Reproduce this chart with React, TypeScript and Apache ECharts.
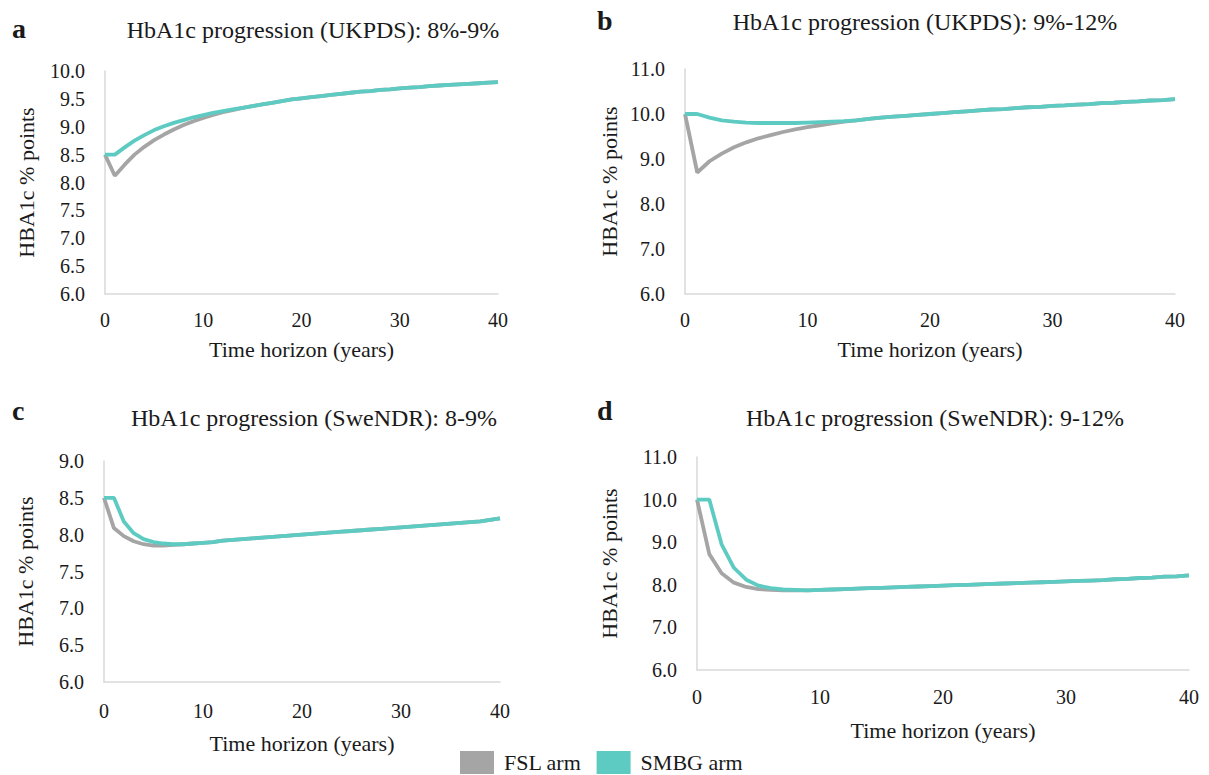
import React, { useEffect, useRef } from "react";
import * as echarts from "echarts";

const years: number[] = Array.from({ length: 41 }, (_, i) => i);

const titles = [
  "HbA1c progression (UKPDS): 8%-9%",
  "HbA1c progression (UKPDS): 9%-12%",
  "HbA1c progression (SweNDR): 8-9%",
  "HbA1c progression (SweNDR): 9-12%",
];
const panelLetters = ["a", "b", "c", "d"];
const seriesNames = ["FSL arm", "SMBG arm"];
const xAxisTitle = "Time horizon (years)";
const yAxisTitle = "HBA1c % points";

const aFSL = [8.5, 8.12, 8.32, 8.5, 8.64, 8.76, 8.86, 8.95, 9.03, 9.1, 9.16, 9.21, 9.26, 9.3, 9.34, 9.37, 9.4, 9.43, 9.46, 9.49, 9.51, 9.53, 9.55, 9.57, 9.59, 9.61, 9.63, 9.64, 9.66, 9.67, 9.69, 9.7, 9.71, 9.73, 9.74, 9.75, 9.76, 9.77, 9.78, 9.79, 9.8];
const aSMBG = [8.5, 8.5, 8.63, 8.75, 8.85, 8.94, 9.01, 9.07, 9.12, 9.17, 9.21, 9.25, 9.28, 9.31, 9.34, 9.37, 9.4, 9.43, 9.46, 9.49, 9.51, 9.53, 9.55, 9.57, 9.59, 9.61, 9.63, 9.64, 9.66, 9.67, 9.69, 9.7, 9.71, 9.73, 9.74, 9.75, 9.76, 9.77, 9.78, 9.79, 9.8];

const bFSL = [10.0, 8.7, 8.95, 9.12, 9.26, 9.37, 9.46, 9.53, 9.6, 9.66, 9.71, 9.75, 9.79, 9.83, 9.86, 9.89, 9.92, 9.94, 9.96, 9.98, 10.0, 10.02, 10.04, 10.06, 10.08, 10.1, 10.11, 10.13, 10.15, 10.16, 10.18, 10.19, 10.21, 10.22, 10.24, 10.25, 10.27, 10.28, 10.3, 10.31, 10.33];
const bSMBG = [10.0, 10.0, 9.92, 9.86, 9.83, 9.81, 9.8, 9.8, 9.8, 9.8, 9.81, 9.82, 9.83, 9.84, 9.86, 9.89, 9.92, 9.94, 9.96, 9.98, 10.0, 10.02, 10.04, 10.06, 10.08, 10.1, 10.11, 10.13, 10.15, 10.16, 10.18, 10.19, 10.21, 10.22, 10.24, 10.25, 10.27, 10.28, 10.3, 10.31, 10.33];

const cFSL = [8.5, 8.09, 7.98, 7.91, 7.87, 7.85, 7.85, 7.86, 7.87, 7.88, 7.89, 7.9, 7.92, 7.93, 7.94, 7.95, 7.96, 7.97, 7.98, 7.99, 8.0, 8.01, 8.02, 8.03, 8.04, 8.05, 8.06, 8.07, 8.08, 8.09, 8.1, 8.11, 8.12, 8.13, 8.14, 8.15, 8.16, 8.17, 8.18, 8.2, 8.22];
const cSMBG = [8.5, 8.5, 8.18, 8.02, 7.94, 7.9, 7.88, 7.87, 7.87, 7.88, 7.89, 7.9, 7.92, 7.93, 7.94, 7.95, 7.96, 7.97, 7.98, 7.99, 8.0, 8.01, 8.02, 8.03, 8.04, 8.05, 8.06, 8.07, 8.08, 8.09, 8.1, 8.11, 8.12, 8.13, 8.14, 8.15, 8.16, 8.17, 8.18, 8.2, 8.22];

const dFSL = [10.0, 8.72, 8.27, 8.05, 7.95, 7.9, 7.88, 7.87, 7.87, 7.87, 7.88, 7.89, 7.9, 7.91, 7.92, 7.93, 7.94, 7.95, 7.96, 7.97, 7.98, 7.99, 8.0, 8.01, 8.02, 8.03, 8.04, 8.05, 8.06, 8.07, 8.08, 8.09, 8.1, 8.11, 8.13, 8.14, 8.16, 8.17, 8.19, 8.2, 8.22];
const dSMBG = [10.0, 10.0, 8.95, 8.4, 8.12, 7.98, 7.92, 7.89, 7.88, 7.87, 7.88, 7.89, 7.9, 7.91, 7.92, 7.93, 7.94, 7.95, 7.96, 7.97, 7.98, 7.99, 8.0, 8.01, 8.02, 8.03, 8.04, 8.05, 8.06, 8.07, 8.08, 8.09, 8.1, 8.11, 8.13, 8.14, 8.16, 8.17, 8.19, 8.2, 8.22];

const yRanges = [
  { min: 6, max: 10, interval: 0.5 },
  { min: 6, max: 11, interval: 1 },
  { min: 6, max: 9, interval: 0.5 },
  { min: 6, max: 11, interval: 1 },
];

const panelData = [
  [aFSL, aSMBG],
  [bFSL, bSMBG],
  [cFSL, cSMBG],
  [dFSL, dSMBG],
];

const FONT = "Liberation Serif";
const GRAY = "#a5a5a5";
const TEAL = "#5ecbc3";
const TXT = "#1a1a1a";

export default function App() {
  const ref = useRef<HTMLDivElement>(null);
  useEffect(() => {
    if (!ref.current) return;
    const chart = echarts.init(ref.current, undefined, { renderer: "svg" });

    const grids = [
      { left: 105, top: 71, width: 393, height: 223 },
      { left: 685, top: 69, width: 490, height: 225 },
      { left: 104, top: 461, width: 396, height: 221 },
      { left: 697, top: 457, width: 492, height: 213 },
    ];
    const titlePos = [
      { x: 308, y: 13 },
      { x: 920, y: 5 },
      { x: 309, y: 401 },
      { x: 930, y: 401 },
    ];
    const letterPos = [
      { x: 12, y: 14 },
      { x: 597, y: 6 },
      { x: 12, y: 396 },
      { x: 597, y: 396 },
    ];
    const yNameGap = [68, 65, 68, 77];
    const xNameGap = [44, 44, 50, 49];
    const xLabelMargin = [16, 16, 19, 17];

    const axisLine = { show: true, lineStyle: { color: "#d9d9d9", width: 1.5 } };

    const xAxis = grids.map((_, i) => ({
      type: "value",
      gridIndex: i,
      min: 0,
      max: 40,
      interval: 10,
      name: xAxisTitle,
      nameLocation: "middle",
      nameGap: xNameGap[i],
      nameTextStyle: { fontFamily: FONT, fontSize: 22, color: TXT },
      axisLine,
      axisTick: { show: false },
      splitLine: { show: false },
      axisLabel: { fontFamily: FONT, fontSize: 20, color: TXT, margin: xLabelMargin[i] },
    }));
    const yAxis = grids.map((_, i) => ({
      type: "value",
      gridIndex: i,
      min: yRanges[i].min,
      max: yRanges[i].max,
      interval: yRanges[i].interval,
      name: yAxisTitle,
      nameLocation: "middle",
      nameGap: yNameGap[i],
      nameRotate: 90,
      nameTextStyle: { fontFamily: FONT, fontSize: 22, color: TXT },
      axisLine,
      axisTick: { show: false },
      splitLine: { show: false },
      axisLabel: { fontFamily: FONT, fontSize: 20, color: TXT, margin: 20, formatter: (v: number) => v.toFixed(1) },
    }));

    const series: any[] = [];
    panelData.forEach((pair, i) => {
      pair.forEach((vals, k) => {
        series.push({
          type: "line",
          name: seriesNames[k],
          xAxisIndex: i,
          yAxisIndex: i,
          data: years.map((y, j) => [y, vals[j]]),
          showSymbol: false,
          lineStyle: { color: k === 0 ? GRAY : TEAL, width: 3.8 },
          itemStyle: { color: k === 0 ? GRAY : TEAL },
          z: k === 0 ? 2 : 3,
        });
      });
    });

    chart.setOption({
      animation: false,
      backgroundColor: "#ffffff",
      title: titles.map((t, i) => ({
        text: t,
        left: titlePos[i].x,
        top: titlePos[i].y,
        textAlign: "center",
        textStyle: { fontFamily: FONT, fontSize: 24, fontWeight: "normal", color: TXT },
      })),
      graphic: panelLetters.map((l, i) => ({
        type: "text",
        left: letterPos[i].x,
        top: letterPos[i].y,
        style: { text: l, fontFamily: FONT, fontSize: 28, fontWeight: "bold", fill: TXT },
      })),
      legend: {
        data: seriesNames,
        left: 460,
        top: 751,
        padding: 0,
        icon: "rect",
        itemWidth: 34,
        itemHeight: 23,
        itemGap: 15,
        textStyle: { fontFamily: FONT, fontSize: 22, color: TXT, padding: [0, 0, 0, 5] },
      },
      grid: grids.map((g) => ({ ...g, containLabel: false })),
      xAxis,
      yAxis,
      series,
    });
    return () => chart.dispose();
  }, []);
  return (
    <div
      ref={ref}
      style={{ position: "fixed", left: 0, top: 0, width: 1209, height: 775 }}
    />
  );
}
